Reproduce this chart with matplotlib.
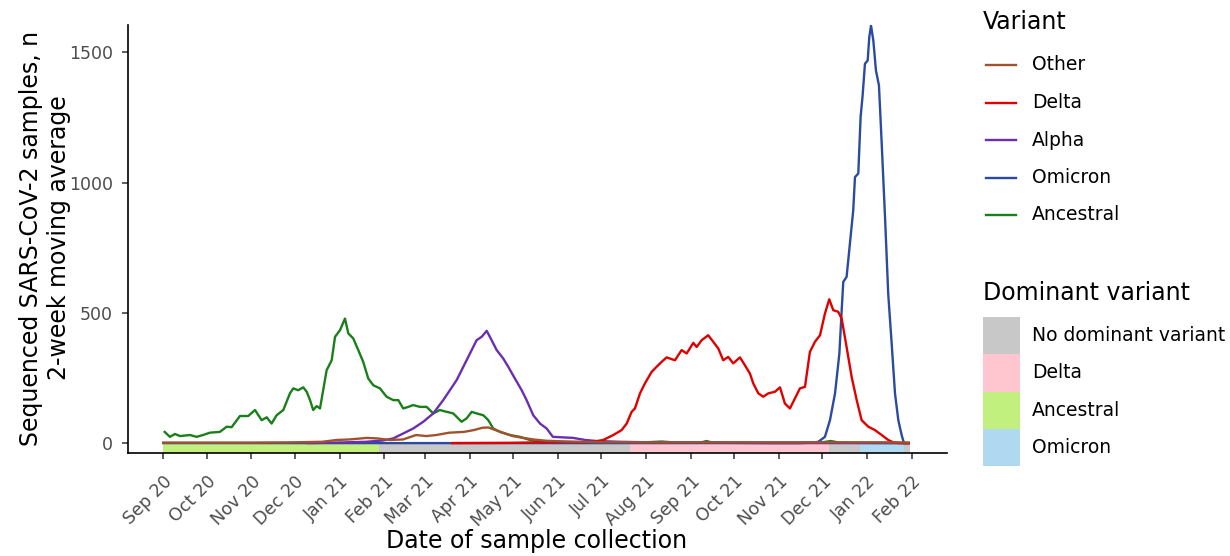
import numpy as np
import matplotlib
matplotlib.use("Agg")
import matplotlib.pyplot as plt
import matplotlib.dates as mdates
from matplotlib.lines import Line2D
from matplotlib.patches import Rectangle
import datetime as dt

# ---------------- data (days since 2020-09-01, 2-week moving average) ----------------
START = dt.date(2020, 9, 1)

other_day = [0, 30, 60, 90, 110, 120, 129, 141, 148, 157, 166, 175, 182, 189, 198, 208,
             215, 221, 225, 230, 235, 242, 249, 256, 265, 280, 300, 330, 360, 400, 440,
             470, 500, 516]
other_val = [2, 2, 2, 3, 5, 12, 14, 20, 18, 12, 14, 31, 27, 31, 40, 43,
             50, 59, 60, 50, 40, 27, 20, 14, 9, 6, 4, 3, 3, 3, 3,
             3, 3, 2]

anc_day = [1, 4.6, 8.1, 11.6, 18.5, 23.1, 27.5, 32.3, 39.2, 43.9, 47.3, 53.1, 58.8, 63.5,
           68.1, 71.6, 75, 78.5, 83.1, 87.7, 90, 93.4, 96.9, 99.3, 101.6, 103.8, 106.2,
           108.5, 110.7, 113.1, 116.6, 118.9, 122.3, 125.8, 128.1, 131.5, 135, 138.4,
           141.9, 145.4, 150, 154.6, 159.2, 162.7, 166.1, 169.6, 173, 177.7, 182.3,
           186.9, 191.5, 196.2, 200.7, 206.5, 210, 213.5, 216.9, 221.5, 225, 228.4,
           233.1, 240, 246.9, 253.8, 260.8, 270, 290, 330, 345, 355, 372, 376, 380,
           420, 455, 462, 468, 480, 516]
anc_val = [43, 24, 35, 27, 31, 24, 31, 40, 43, 63, 61, 104, 104, 127,
           88, 99, 75, 107, 127, 191, 210, 203, 214, 197, 165, 127, 142,
           133, 203, 280, 318, 408, 433, 478, 421, 402, 357, 312,
           248, 222, 210, 178, 165, 165, 133, 139, 146, 139, 139,
           114, 127, 120, 114, 82, 95, 120, 114, 107, 88, 56,
           43, 31, 24, 12, 5, 3, 2, 2, 6, 2, 2, 8, 2,
           2, 2, 8, 2, 1, 0]

alpha_day = [100, 120, 140, 152, 159.2, 166.1, 173, 180, 186.9, 193.8, 198.4, 203.1,
             207.7, 212.3, 216.9, 220.4, 223.9, 227.3, 230.8, 235.3, 238.8, 243.4,
             248.1, 251.5, 256.1, 260.8, 265.4, 269.7, 276.7, 283.6, 292, 300.2, 316,
             337, 371.5, 420, 516]
alpha_val = [0, 2, 5, 10, 18, 37, 56, 82, 114, 165, 203, 242,
             293, 344, 395, 408, 431, 395, 357, 325, 293, 248,
             203, 165, 107, 75, 56, 24, 22, 20, 12, 8, 5,
             3, 2, 0, 0]

delta_day = [200, 240, 262, 280, 290, 297.7, 304.6, 311.5, 317.3, 320.8, 324.2, 326.5,
             330, 333.4, 338, 341.5, 345, 348.4, 354.2, 358.8, 362.3, 366.9, 369.2,
             372.7, 377.2, 380.7, 384.2, 387.6, 391.1, 394.5, 399.2, 402.6, 406.1,
             408.4, 411.9, 415.3, 418.8, 423.4, 426.9, 430.3, 433.8, 437.2, 440.7,
             444.2, 447.6, 451.1, 454.6, 458, 461, 463.8, 467.2, 469.6, 473, 476.5,
             480, 483.4, 488, 492.6, 497.3, 501.8, 505.3, 510, 516]
delta_val = [0, 1, 3, 4, 3, 5, 12, 31, 50, 75, 120, 133,
             191, 229, 273, 293, 312, 329, 318, 357, 344, 385, 369,
             395, 414, 389, 363, 318, 331, 306, 329, 299, 267,
             229, 191, 178, 191, 197, 214, 152, 133, 171, 210,
             216, 350, 389, 414, 497, 552, 510, 504, 478, 369, 254,
             165, 88, 63, 50, 31, 12, 3, 0, 0]

omi_day = [0, 440, 450, 453.4, 458, 461.5, 465, 468, 469.6, 470.7, 473, 475.3, 477.6,
           478.8, 481.1, 482.7, 484.1, 485.7, 487.6, 488.7, 489.9, 491.5, 493.3, 495.4,
           497.3, 499.6, 501.8, 504.2, 506.5, 508.8, 511.1, 512.7, 516]
omi_val = [0, 0, 2, 5, 24, 88, 191, 344, 510, 619, 638, 766, 894,
           1021, 1035, 1252, 1335, 1456, 1469, 1558, 1603, 1546, 1431, 1373,
           1150, 868, 574, 382, 191, 88, 31, 0, 0]

# dominant variant periods
dom_start = ["2020-09-01", "2021-01-28", "2021-07-21", "2021-12-06", "2021-12-27", "2022-01-27"]
dom_end = ["2021-01-28", "2021-07-21", "2021-12-06", "2021-12-27", "2022-01-27", "2022-01-31"]
dom_kind = ["Ancestral", "No dominant variant", "Delta", "No dominant variant", "Omicron",
            "No dominant variant"]

variant_names = ["Other", "Delta", "Alpha", "Omicron", "Ancestral"]
dominant_names = ["No dominant variant", "Delta", "Ancestral", "Omicron"]

# ---------------- styles ----------------
line_col = {"Other": "#A0522D", "Delta": "#E00000", "Alpha": "#6A2FB0",
            "Omicron": "#2B4BA0", "Ancestral": "#1A7F1A"}
dom_col = {"No dominant variant": "#C8C8C8", "Delta": "#FFC6D0",
           "Ancestral": "#C2F07E", "Omicron": "#B0D8F0"}

W, H = 1230, 556
plt.rcParams['font.family'] = ['DejaVu Sans']
fig = plt.figure(figsize=(W / 100, H / 100), dpi=100)


def fx(px):
    return px / W


def fy(py):
    return 1 - py / H


ax = fig.add_axes([fx(128), fy(453), fx(947) - fx(128), fy(25) - fy(453)])

t0 = mdates.date2num(START)
series = {"Other": (other_day, other_val), "Delta": (delta_day, delta_val),
          "Alpha": (alpha_day, alpha_val), "Omicron": (omi_day, omi_val),
          "Ancestral": (anc_day, anc_val)}

YMIN, YMAX = -38, 1605

# dominant strip
for s, e, k in zip(dom_start, dom_end, dom_kind):
    xs = mdates.datestr2num(s)
    xe = mdates.datestr2num(e)
    ax.bar(xs, -YMIN, width=xe - xs, bottom=YMIN, align='edge', color=dom_col[k],
           linewidth=0, zorder=1)

for name in ["Ancestral", "Omicron", "Alpha", "Delta", "Other"]:
    d, v = series[name]
    ax.plot(t0 + np.asarray(d, float), v, color=line_col[name], lw=1.7, zorder=3,
            solid_joinstyle='round')

ax.set_ylim(YMIN, YMAX)
ax.set_xlim(t0 - 24.4, t0 + 542.5)
ax.set_yticks([0, 500, 1000, 1500])
ticks = [mdates.date2num(dt.date(2020 + (8 + i) // 12, (8 + i) % 12 + 1, 1)) for i in range(18)]
ax.set_xticks(ticks)
ax.xaxis.set_major_formatter(mdates.DateFormatter("%b %y"))
for sp in ["top", "right"]:
    ax.spines[sp].set_visible(False)
for sp in ["left", "bottom"]:
    ax.spines[sp].set_linewidth(1.2)
    ax.spines[sp].set_color("black")
ax.tick_params(axis='both', length=4, width=1.1, color="#333333", labelcolor="#4D4D4D",
               labelsize=12.5)
ax.tick_params(axis='y', pad=7)
ax.tick_params(axis='x', pad=10)
plt.setp(ax.get_xticklabels(), rotation=45, ha='right', rotation_mode='anchor')

fig.text(fx(537), fy(541), "Date of sample collection", fontsize=17, ha='center', va='center')
fig.text(fx(45), fy(238), "Sequenced SARS-CoV-2 samples, n\n2-week moving average",
         fontsize=17, ha='center', va='center', rotation=90, multialignment='center',
         linespacing=1.25)

# legends (drawn in figure coordinates)
fig.text(fx(983), fy(22), "Variant", fontsize=17, ha='left', va='center')
for i, name in enumerate(variant_names):
    yc = 65 + i * 37.5
    fig.add_artist(Line2D([fx(986), fx(1016)], [fy(yc), fy(yc)], color=line_col[name],
                          lw=1.7, transform=fig.transFigure))
    fig.text(fx(1032), fy(yc), name, fontsize=13.5, ha='left', va='center')

fig.text(fx(983), fy(293), "Dominant variant", fontsize=17, ha='left', va='center')
for i, name in enumerate(dominant_names):
    top = 317 + i * 37.3
    fig.add_artist(Rectangle((fx(983), fy(top + 37.3)), fx(1020) - fx(983),
                             fy(top) - fy(top + 37.3), facecolor=dom_col[name],
                             edgecolor='none', transform=fig.transFigure))
    fig.text(fx(1032), fy(top + 18.6), name, fontsize=13.5, ha='left', va='center')

fig.savefig("out.png", dpi=100)
